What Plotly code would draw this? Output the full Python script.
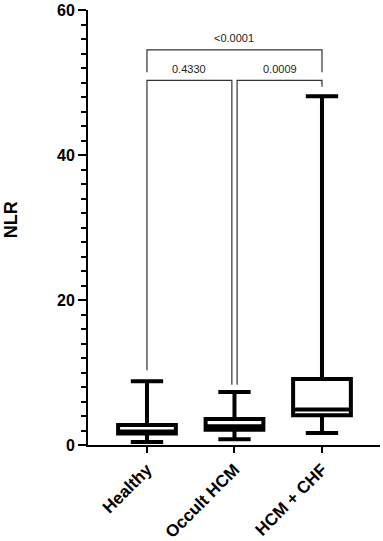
import plotly.graph_objects as go

groups = ["Healthy", "Occult HCM", "HCM + CHF"]
lower_whisker = [0.4, 0.8, 1.65]
q1 = [1.6, 2.1, 4.1]
median = [1.85, 2.6, 4.9]
q3 = [2.75, 3.6, 9.1]
upper_whisker = [8.8, 7.3, 48.1]

y_ticks = [0, 20, 40, 60]

# significance comparisons: (group a, group b, p-value label)
comp_pairs = [(0, 1), (1, 2), (0, 2)]
comp_labels = ["0.4330", "0.0009", "<0.0001"]

FONT = "Liberation Sans, Arial, sans-serif"

fig = go.Figure()
for i, g in enumerate(groups):
    fig.add_trace(go.Box(
        x=[i], q1=[q1[i]], median=[median[i]], q3=[q3[i]],
        lowerfence=[lower_whisker[i]], upperfence=[upper_whisker[i]],
        name=g, width=0.66, whiskerwidth=0.56,
        fillcolor="white", line=dict(color="black", width=4),
        boxpoints=False, hoverinfo="skip", showlegend=False,
    ))

gray = "#333333"
def bracket(x0, x1, ytop, yl, yr, label, ytext):
    fig.add_shape(type="path",
                  path=f"M {x0},{yl} L {x0},{ytop} L {x1},{ytop} L {x1},{yr}",
                  xref="x", yref="y", line=dict(color=gray, width=1.2))
    fig.add_annotation(x=(x0 + x1) / 2, y=ytext, text=label, showarrow=False,
                       xref="x", yref="y", yanchor="middle",
                       font=dict(family=FONT, size=11, color="#222222"))

(a, b) = comp_pairs[0]
bracket(a, b - 0.03, 50.3, upper_whisker[a] + 1.5, 8.3, comp_labels[0], 51.9)
(a, b) = comp_pairs[1]
bracket(a + 0.03, b, 50.3, 8.3, 49.4, comp_labels[1], 51.9)
(a, b) = comp_pairs[2]
bracket(a, b, 54.5, 51.4, 51.4, comp_labels[2], 56.1)

fig.add_annotation(x=-0.263, y=0.517, xref="paper", yref="paper",
                   text="NLR", textangle=-90, showarrow=False,
                   xanchor="center", yanchor="middle",
                   font=dict(family=FONT, size=18, color="black", weight="bold"))

fig.update_layout(
    width=383, height=541,
    margin=dict(l=88, r=3, t=10, b=96),
    plot_bgcolor="white", paper_bgcolor="white",
    showlegend=False,
    xaxis=dict(range=[-0.674, 2.663], tickmode="array",
               tickvals=list(range(len(groups))),
               ticktext=groups,
               tickangle=-45, showline=True, linecolor="black", linewidth=2,
               ticks="outside", ticklen=6, tickwidth=2, tickcolor="black",
               showgrid=False, zeroline=False, automargin=False,
               ticklabeloverflow="allow",
               tickfont=dict(family=FONT, size=17, color="black", weight="bold")),
    yaxis=dict(range=[0, 60], tickmode="array", tickvals=y_ticks,
               ticktext=[str(v) for v in y_ticks],
               showline=True, linecolor="black", linewidth=2,
               ticks="outside", ticklen=8, tickwidth=2, tickcolor="black",
               minor=dict(dtick=2, ticks="outside", ticklen=5, tickwidth=2,
                          tickcolor="black", showgrid=False),
               showgrid=False, zeroline=False, automargin=False,
               ticklabeloverflow="allow",
               tickfont=dict(family=FONT, size=16, color="black", weight="bold")),
)

fig.write_html("out.html", config={"displayModeBar": False},
               post_script="document.body.style.margin='0px';document.body.style.overflow='hidden';")
